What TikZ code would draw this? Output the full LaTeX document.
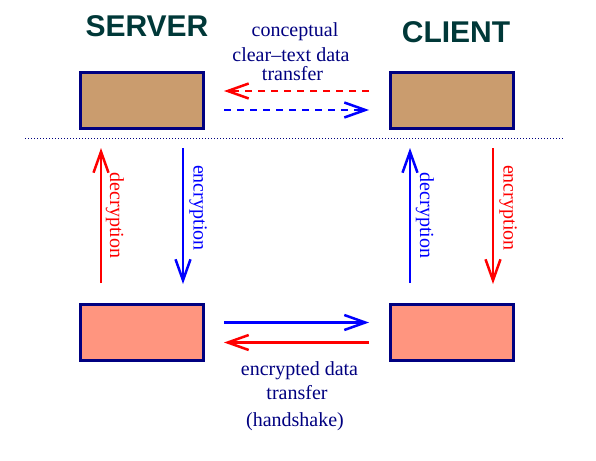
\documentclass[tikz,border=0pt]{standalone}
\usepackage{fontspec}
\setmainfont{Liberation Serif}
\newfontfamily\headfont{Liberation Sans}
\usetikzlibrary{arrows.meta,positioning}

\definecolor{navyline}{HTML}{000080}
\definecolor{clearbox}{HTML}{CA9C6E}
\definecolor{cryptbox}{HTML}{FF957F}
\definecolor{headcol}{HTML}{003838}

\begin{document}
\begin{tikzpicture}[x=1pt,y=1pt,>={Straight Barb[length=21pt,width=15pt]},every node/.append style={align=center},plain/.style={draw=navyline,line width=3pt,fill=clearbox,minimum width=123pt,minimum height=56pt,inner sep=0pt},cipher/.style={plain,fill=cryptbox},head/.style={text=headcol,inner sep=0pt,font=\headfont\bfseries\fontsize{30}{30}\selectfont},lbl/.style={text=navyline,inner sep=0pt,font=\fontsize{20}{24}\selectfont},vlbl/.style={inner sep=0pt,font=\fontsize{20}{24}\selectfont},flow/.style={line width=2.5pt},dashline/.style={dash pattern=on 7pt off 6pt}]
    \useasboundingbox (0,0) rectangle (596,-460);
    \node [plain] (Stop) at (142,-100.5)         {};
    \node [plain, right=184pt of Stop] (Ctop)     {};
    \node [cipher, below=173pt of Stop] (Sbot)    {};
    \node [cipher, below=173pt of Ctop] (Cbot)    {};
    
    \node [head, above=34pt of Stop, xshift=5pt] (server) {SERVER};
    \node [head, above=28pt of Ctop, xshift=4pt] (client) {CLIENT};
    
    % clear text (top)
    \node [lbl, anchor=base] (concept) at (295,-36.7) {conceptual};
    \node [lbl, anchor=base] (cleartext) at (291,-61.7) {clear–text data};
    \node [lbl, anchor=base] (transfer1) at (292.5,-80) {transfer};
    \path[flow,dashline] ([xshift=-20pt,yshift=9.5pt] Ctop.west) edge [->,red] ([xshift=19pt,yshift=9.5pt] Stop.east)
    ([xshift=19pt,yshift=-9.5pt] Stop.east) edge [->,blue] ([xshift=-20pt,yshift=-9.5pt] Ctop.west);
    
    \coordinate (sepL) at (25,-138);
    \coordinate (sepR) at (563,-138);
    \draw[navyline,line width=1pt,dash pattern=on 1pt off 2pt] (sepL) -- (sepR);
    
    % server side
    \path[flow] ([xshift=-41pt,yshift=20pt] Sbot.north) edge [->,red] node [vlbl,text=red,xshift=14pt,rotate=-90] {decryption} ([xshift=-41pt,yshift=-18pt] Stop.south);
    \path[flow] ([xshift=41pt,yshift=-18pt] Stop.south) edge [->,blue] node [vlbl,text=blue,pos=0.44,xshift=15pt,rotate=-90] {encryption} ([xshift=41pt,yshift=19pt] Sbot.north);
    % client side
    \path[flow] ([xshift=-42pt,yshift=20pt] Cbot.north) edge [->,blue] node [vlbl,text=blue,xshift=15pt,rotate=-90] {decryption} ([xshift=-42pt,yshift=-18pt] Ctop.south);
    \path[flow] ([xshift=41pt,yshift=-18pt] Ctop.south) edge [->,red] node [vlbl,text=red,pos=0.44,xshift=15pt,rotate=-90] {encryption} ([xshift=41pt,yshift=19pt] Cbot.north);
    
    % encrypted (bottom)
    \path[flow] ([xshift=19pt,yshift=10pt] Sbot.east) edge [->,blue] ([xshift=-20pt,yshift=10pt] Cbot.west)
    ([xshift=-20pt,yshift=-10pt] Cbot.west) edge [->,red] ([xshift=19pt,yshift=-10pt] Sbot.east);
    \node [lbl, anchor=base] (encdata) at (299.5,-375) {encrypted data};
    \node [lbl, anchor=base] (transfer2) at (297,-399.3) {transfer};
    \node [lbl, anchor=base] (hshake) at (295,-426.7) {(handshake)};
\end{tikzpicture}
\end{document}
